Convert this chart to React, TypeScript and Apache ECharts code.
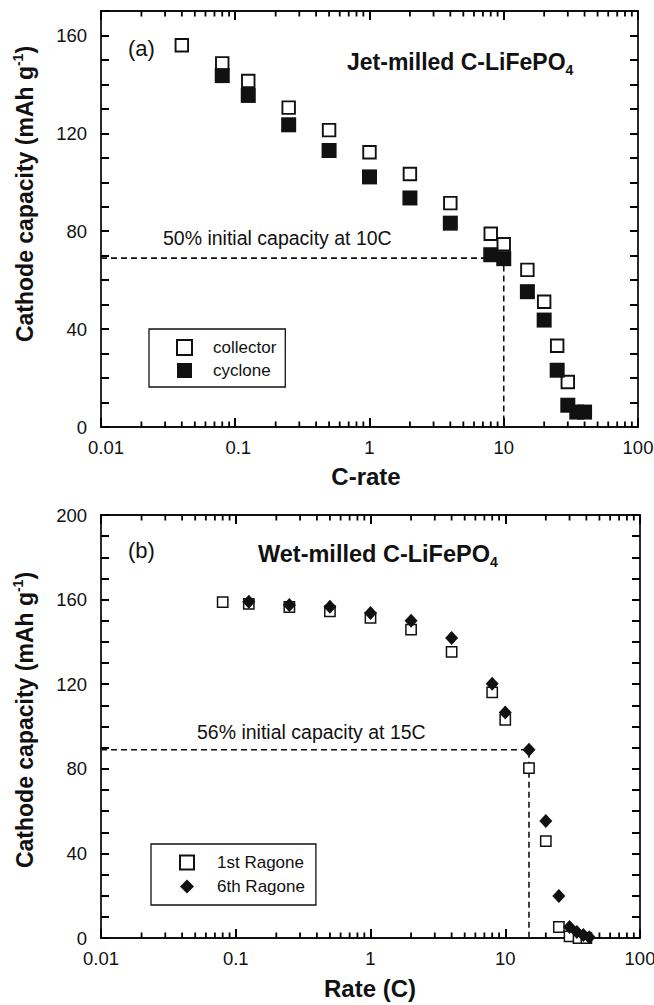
import React, { useEffect, useRef } from 'react';
import * as echarts from 'echarts';

const FONT = 'Liberation Sans, Arial, sans-serif';
const INK = '#111';
const TICK = '#000';

// axis tick labels
const xTickLabels = ['0.01', '0.1', '1', '10', '100'];
const logMinorTicks = [
  0.02, 0.03, 0.04, 0.05, 0.06, 0.07, 0.08, 0.09,
  0.2, 0.3, 0.4, 0.5, 0.6, 0.7, 0.8, 0.9,
  2, 3, 4, 5, 6, 7, 8, 9,
  20, 30, 40, 50, 60, 70, 80, 90,
];

// (a) Jet-milled C-LiFePO4
const collectorRate = [0.04, 0.08, 0.125, 0.25, 0.5, 1, 2, 4, 8, 10, 15, 20, 25, 30];
const collectorCap = [156, 148.6, 141.4, 130.5, 121.3, 112.3, 103.4, 91.5, 79, 74.7, 64.2, 51.2, 33.2, 18.4];
const cycloneRate = [0.08, 0.125, 0.25, 0.5, 1, 2, 4, 8, 10, 15, 20, 25, 30, 35, 40];
const cycloneCap = [143.6, 135.5, 123.5, 113, 102.2, 93.6, 83.3, 70.4, 68.8, 55.3, 43.7, 23.2, 8.9, 6.1, 6.1];
const jetRefRate = [0.01, 10, 10];
const jetRefCap = [69, 69, 0];

// (b) Wet-milled C-LiFePO4
const ragone1Rate = [0.08, 0.125, 0.25, 0.5, 1, 2, 4, 8, 10, 15, 20, 25, 30, 35, 40];
const ragone1Cap = [158.8, 158, 156.5, 154.5, 151.4, 145.8, 135.3, 116.1, 103.2, 80.3, 45.8, 5.2, 0.8, 0, 0];
const ragone6Rate = [0.125, 0.25, 0.5, 1, 2, 4, 8, 10, 15, 20, 25, 30, 34, 38, 42];
const ragone6Cap = [159, 157.5, 156.6, 153.7, 150, 141.9, 120.2, 106.6, 89, 55.3, 19.9, 5.2, 2.8, 1.4, 0.3];
const wetRefRate = [0.01, 15, 15];
const wetRefCap = [89, 89, 0];

const pts = (xs: number[], ys: number[]) => xs.map((x, i) => [x, ys[i]]);
const labelIndex = (v: number) => Math.round(Math.log10(v)) + 2;

function buildOption() {
  const axisLine = () => ({ show: true, onZero: false, lineStyle: { color: INK, width: 1.8 } });
  const tickStyle = () => ({ color: TICK, width: 2 });
  const lbl = { fontFamily: FONT, fontSize: 18.5, color: INK };

  const logAxis = (gridIndex: number, position: 'top' | 'bottom', withLabels: boolean, shifted: boolean) => ({
    type: 'log',
    logBase: 10,
    gridIndex,
    position,
    min: 0.01,
    max: 100,
    axisLine: axisLine(),
    axisTick: { show: true, inside: true, length: 9, lineStyle: tickStyle() },
    splitLine: { show: false },
    axisLabel: withLabels
      ? {
          show: true,
          margin: 11,
          ...lbl,
          formatter: (v: number) => {
            const i = labelIndex(v);
            const t = xTickLabels[i] ?? String(v);
            return shifted ? `{p${i}|${t}}` : t;
          },
          rich: shifted
            ? {
                p0: { ...lbl, padding: [0, 0, 0, 10] },
                p1: { ...lbl, padding: [0, 0, 0, 6] },
                p2: { ...lbl },
                p3: { ...lbl },
                p4: { ...lbl },
              }
            : undefined,
        }
      : { show: false },
  });

  const valAxis = (gridIndex: number, position: 'left' | 'right', max: number, withLabels: boolean, showMax: boolean) => ({
    type: 'value',
    gridIndex,
    position,
    min: 0,
    max,
    interval: 40,
    axisLine: axisLine(),
    axisTick: { show: true, inside: true, length: 8, lineStyle: tickStyle() },
    minorTick: { show: true, splitNumber: 4, length: 8, lineStyle: tickStyle() },
    splitLine: { show: false },
    axisLabel: withLabels ? { show: true, margin: 14, ...lbl, showMaxLabel: showMax } : { show: false },
  });

  const minorTickSeries = (axisIdx: number, yMax: number) => ({
    type: 'custom',
    xAxisIndex: axisIdx,
    yAxisIndex: axisIdx,
    silent: true,
    encode: { x: 0, y: 1 },
    data: logMinorTicks.map((v) => [v, 0]),
    renderItem: (_p: any, api: any) => {
      const x = api.value(0);
      const b = api.coord([x, 0]);
      const t = api.coord([x, yMax]);
      return {
        type: 'group',
        children: [
          { type: 'line', shape: { x1: b[0], y1: b[1], x2: b[0], y2: b[1] - 5.5 }, style: { stroke: TICK, lineWidth: 1.8 } },
          { type: 'line', shape: { x1: t[0], y1: t[1], x2: t[0], y2: t[1] + 5.5 }, style: { stroke: TICK, lineWidth: 1.8 } },
        ],
      };
    },
  });

  const dashed = (axisIdx: number, xs: number[], ys: number[]) => ({
    type: 'line',
    xAxisIndex: axisIdx,
    yAxisIndex: axisIdx,
    data: pts(xs, ys),
    symbol: 'none',
    silent: true,
    z: 1,
    lineStyle: { color: INK, width: 1.6, type: [6, 4] },
  });

  const legendRich = (pad: number) => ({
    t: { fontFamily: FONT, fontSize: 17, color: INK, padding: [0, 0, 0, pad] },
  });

  return {
    animation: false,
    grid: [
      { left: 101, top: 11, width: 537, height: 416, outerBoundsMode: 'none' },
      { left: 101, top: 515, width: 539, height: 423, outerBoundsMode: 'none' },
    ],
    xAxis: [
      logAxis(0, 'bottom', true, true),
      logAxis(0, 'top', false, false),
      logAxis(1, 'bottom', true, false),
      logAxis(1, 'top', false, false),
    ],
    yAxis: [
      valAxis(0, 'left', 170, true, false),
      valAxis(0, 'right', 170, false, false),
      valAxis(1, 'left', 200, true, true),
      valAxis(1, 'right', 200, false, false),
    ],
    legend: [
      {
        data: ['collector', 'cyclone'],
        orient: 'vertical',
        left: 149,
        top: 329,
        padding: [10, 9, 8, 27],
        itemGap: 6,
        itemWidth: 15,
        itemHeight: 15,
        borderColor: INK,
        borderWidth: 1.3,
        selectedMode: false,
        formatter: (name: string) => `{t|${name}}`,
        textStyle: { fontFamily: FONT, fontSize: 17, color: INK, rich: legendRich(16) },
      },
      {
        data: ['1st Ragone', '6th Ragone'],
        orient: 'vertical',
        left: 151,
        top: 844,
        padding: [10, 11, 10, 28],
        itemGap: 7,
        itemWidth: 14,
        itemHeight: 14,
        borderColor: INK,
        borderWidth: 1.3,
        selectedMode: false,
        formatter: (name: string) => `{t|${name}}`,
        textStyle: { fontFamily: FONT, fontSize: 17, color: INK, rich: legendRich(18) },
      },
    ],
    series: [
      minorTickSeries(0, 170),
      dashed(0, jetRefRate, jetRefCap),
      {
        name: 'collector',
        type: 'scatter',
        xAxisIndex: 0,
        yAxisIndex: 0,
        symbol: 'rect',
        symbolSize: 12.5,
        itemStyle: { color: '#fff', borderColor: INK, borderWidth: 1.9, opacity: 1 },
        data: pts(collectorRate, collectorCap),
        z: 3,
      },
      {
        name: 'cyclone',
        type: 'scatter',
        xAxisIndex: 0,
        yAxisIndex: 0,
        symbol: 'rect',
        symbolSize: 15,
        itemStyle: { color: INK, opacity: 1 },
        data: pts(cycloneRate, cycloneCap),
        z: 4,
      },
      minorTickSeries(2, 200),
      dashed(2, wetRefRate, wetRefCap),
      {
        name: '1st Ragone',
        type: 'scatter',
        xAxisIndex: 2,
        yAxisIndex: 2,
        symbol: 'rect',
        symbolSize: 10.3,
        itemStyle: { color: '#fff', borderColor: INK, borderWidth: 1.5, opacity: 1 },
        data: pts(ragone1Rate, ragone1Cap),
        z: 3,
      },
      {
        name: '6th Ragone',
        type: 'scatter',
        xAxisIndex: 2,
        yAxisIndex: 2,
        symbol: 'diamond',
        symbolSize: [13, 14],
        itemStyle: { color: INK, opacity: 1 },
        data: pts(ragone6Rate, ragone6Cap),
        z: 4,
      },
    ],
    graphic: [
      { type: 'text', x: 128, y: 48, style: { text: '(a)', fill: INK, fontFamily: FONT, fontSize: 22, align: 'left', verticalAlign: 'middle' } },
      {
        type: 'text', x: 347, y: 62,
        style: {
          text: 'Jet-milled C-LiFePO{sub|4}', fill: INK, fontFamily: FONT, fontSize: 23, fontWeight: 'bold',
          lineHeight: 30, align: 'left', verticalAlign: 'middle',
          rich: { sub: { fontFamily: FONT, fontSize: 14, fontWeight: 'bold', fill: INK, lineHeight: 18, verticalAlign: 'bottom' } },
        },
      },
      { type: 'text', x: 163, y: 238, style: { text: '50% initial capacity at 10C', fill: INK, fontFamily: FONT, fontSize: 19.5, align: 'left', verticalAlign: 'middle' } },
      { type: 'text', x: 366, y: 476, style: { text: 'C-rate', fill: INK, fontFamily: FONT, fontSize: 24, fontWeight: 'bold', align: 'center', verticalAlign: 'middle' } },
      {
        type: 'text', x: 25, y: 194, rotation: Math.PI / 2,
        style: {
          text: 'Cathode capacity (mAh g{sup|-1})', fill: INK, fontFamily: FONT, fontSize: 23, fontWeight: 'bold',
          lineHeight: 28, align: 'center', verticalAlign: 'middle',
          rich: { sup: { fontFamily: FONT, fontSize: 14, fontWeight: 'bold', fill: INK, lineHeight: 16, verticalAlign: 'top' } },
        },
      },
      { type: 'text', x: 128, y: 550, style: { text: '(b)', fill: INK, fontFamily: FONT, fontSize: 22, align: 'left', verticalAlign: 'middle' } },
      {
        type: 'text', x: 258, y: 554,
        style: {
          text: 'Wet-milled C-LiFePO{sub|4}', fill: INK, fontFamily: FONT, fontSize: 23.5, fontWeight: 'bold',
          lineHeight: 30, align: 'left', verticalAlign: 'middle',
          rich: { sub: { fontFamily: FONT, fontSize: 14, fontWeight: 'bold', fill: INK, lineHeight: 18, verticalAlign: 'bottom' } },
        },
      },
      { type: 'text', x: 197, y: 732, style: { text: '56% initial capacity at 15C', fill: INK, fontFamily: FONT, fontSize: 19.5, align: 'left', verticalAlign: 'middle' } },
      { type: 'text', x: 370, y: 988, style: { text: 'Rate (C)', fill: INK, fontFamily: FONT, fontSize: 24, fontWeight: 'bold', align: 'center', verticalAlign: 'middle' } },
      {
        type: 'text', x: 25, y: 720, rotation: Math.PI / 2,
        style: {
          text: 'Cathode capacity (mAh g{sup|-1})', fill: INK, fontFamily: FONT, fontSize: 23, fontWeight: 'bold',
          lineHeight: 28, align: 'center', verticalAlign: 'middle',
          rich: { sup: { fontFamily: FONT, fontSize: 14, fontWeight: 'bold', fill: INK, lineHeight: 16, verticalAlign: 'top' } },
        },
      },
    ],
  };
}

export default function App() {
  const ref = useRef<HTMLDivElement>(null);
  useEffect(() => {
    if (!ref.current) return;
    const chart = echarts.init(ref.current, undefined, { renderer: 'svg' });
    chart.setOption(buildOption() as any);
    return () => chart.dispose();
  }, []);
  return (
    <div
      ref={ref}
      style={{ position: 'absolute', left: 0, top: 0, width: 654, height: 1005, background: '#fff' }}
    />
  );
}
